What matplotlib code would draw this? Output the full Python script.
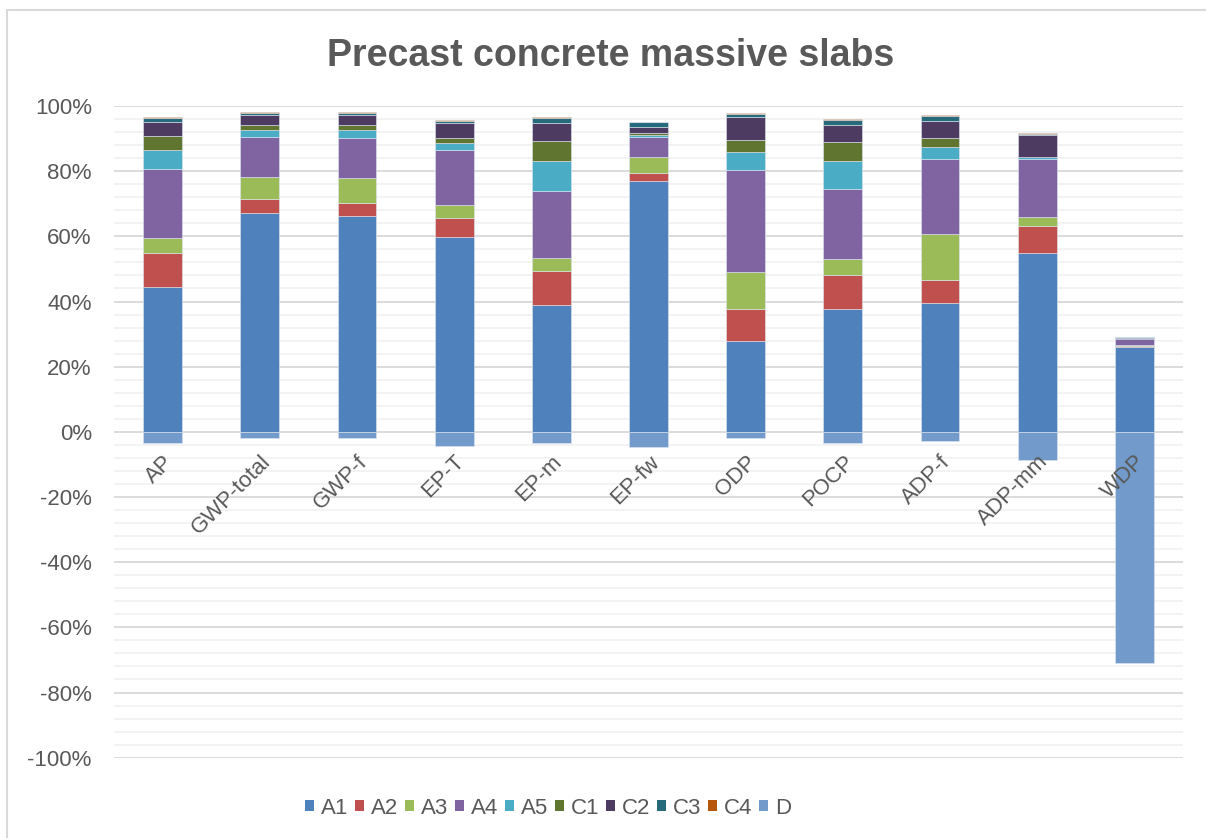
import matplotlib
matplotlib.use("Agg")
import matplotlib.pyplot as plt
import matplotlib.patches as mpatches
from matplotlib.ticker import MultipleLocator, FuncFormatter
import numpy as np

plt.rcParams['font.family'] = ['Liberation Sans', 'DejaVu Sans']

categories = ["AP", "GWP-total", "GWP-f", "EP-T", "EP-m", "EP-fw", "ODP", "POCP", "ADP-f", "ADP-mm", "WDP"]
series = ["A1", "A2", "A3", "A4", "A5", "C1", "C2", "C3", "C4", "D"]

A1 = [44.4, 67.1, 66.3, 59.7, 38.9, 76.9, 27.8, 37.6, 39.5, 55.0, 26.0]
A2 = [10.6, 4.3, 4.0, 5.8, 10.6, 2.4, 10.0, 10.4, 7.2, 8.3, 0.3]
A3 = [4.5, 6.7, 7.7, 4.1, 4.0, 5.2, 11.4, 5.1, 13.9, 2.7, 0.4]
A4 = [21.2, 12.4, 12.3, 16.8, 20.3, 6.1, 31.3, 21.3, 23.2, 17.8, 1.7]
A5 = [5.9, 2.1, 2.3, 2.3, 9.2, 0.5, 5.4, 8.7, 3.7, 0.6, 0.1]
C1 = [4.1, 1.7, 1.7, 1.4, 6.4, 0.6, 3.6, 5.8, 2.6, 0.1, 0.1]
C2 = [4.5, 2.9, 2.9, 4.6, 5.3, 1.8, 7.2, 5.4, 5.4, 6.7, 0.2]
C3 = [1.1, 0.7, 0.7, 0.6, 1.7, 1.6, 0.8, 1.4, 1.4, 0.3, 0.2]
C4 = [0.2, 0.3, 0.3, 0.4, 0.3, 0.1, 0.4, 0.3, 0.3, 0.1, 0.1]
D = [-3.3, -1.8, -1.8, -4.3, -3.5, -4.8, -2.0, -3.5, -2.9, -8.6, -70.8]

colors = ["#4F81BD", "#C0504D", "#9BBB59", "#8064A2", "#4BACC6",
          "#5F7530", "#4D3B62", "#276A7C", "#B65708", "#729ACA"]

pos_series = [A1, A2, A3, A4, A5, C1, C2, C3, C4]

fig = plt.figure(figsize=(12.06, 8.38), dpi=100)
ax = fig.add_axes([114/1206, 1 - 757.7/838, (1183-114)/1206, (757.7-106)/838])

x = np.arange(len(categories))
width = 0.40
bottom = np.zeros(len(categories))
for vals, col, name in zip(pos_series, colors[:9], series[:9]):
    v = np.array(vals)
    ax.bar(x, v, width, bottom=bottom, color=col, edgecolor='#dfe6f0', linewidth=0.4, zorder=3, label=name)
    bottom += v
ax.bar(x, np.array(D), width, bottom=0, color=colors[9], edgecolor='#dfe6f0', linewidth=0.4, zorder=3, label="D")

ax.set_xlim(-0.5, len(categories) - 0.5)
ax.set_ylim(-100, 100)
ax.yaxis.set_major_locator(MultipleLocator(20))
ax.yaxis.set_minor_locator(MultipleLocator(4))
ax.yaxis.set_major_formatter(FuncFormatter(lambda v, p: f"{int(round(v))}%"))
ax.grid(which='minor', axis='y', color='#F2F2F2', linewidth=1.3, zorder=0)
ax.grid(which='major', axis='y', color='#D9D9D9', linewidth=1.3, zorder=1)
ax.set_axisbelow(True)
for s in ax.spines.values():
    s.set_visible(False)
ax.tick_params(axis='y', which='both', length=0, labelsize=16, labelcolor='#595959', pad=16)
ax.tick_params(axis='x', which='both', length=0, labelbottom=False)

for i, c in enumerate(categories):
    ax.annotate(c, xy=(i, 0), xytext=(0, -14), textcoords='offset points',
                rotation=45, ha='right', va='top', rotation_mode='anchor',
                fontsize=16, color='#595959', zorder=5)

fig.text(0.506, 1 - 66/838, "Precast concrete massive slabs", ha='center', va='baseline',
         fontsize=27, fontweight='bold', color='#595959')

handles = [mpatches.Patch(facecolor=c, edgecolor='none', label=s) for c, s in zip(colors, series)]
fig.legend(handles=handles, loc='center', bbox_to_anchor=(548/1206, 1 - 808/838), ncol=10,
           frameon=False, fontsize=16, handlelength=0.42, handleheight=0.42,
           handletextpad=0.3, columnspacing=0.3, labelcolor='#595959')

border = mpatches.Rectangle((7/1206, -0.05), 1.2, 1 - 10/838 + 0.05, transform=fig.transFigure,
                            fill=False, edgecolor='#D9D9D9', linewidth=1.5)
fig.patches.append(border)

fig.savefig("out.png", dpi=100)
